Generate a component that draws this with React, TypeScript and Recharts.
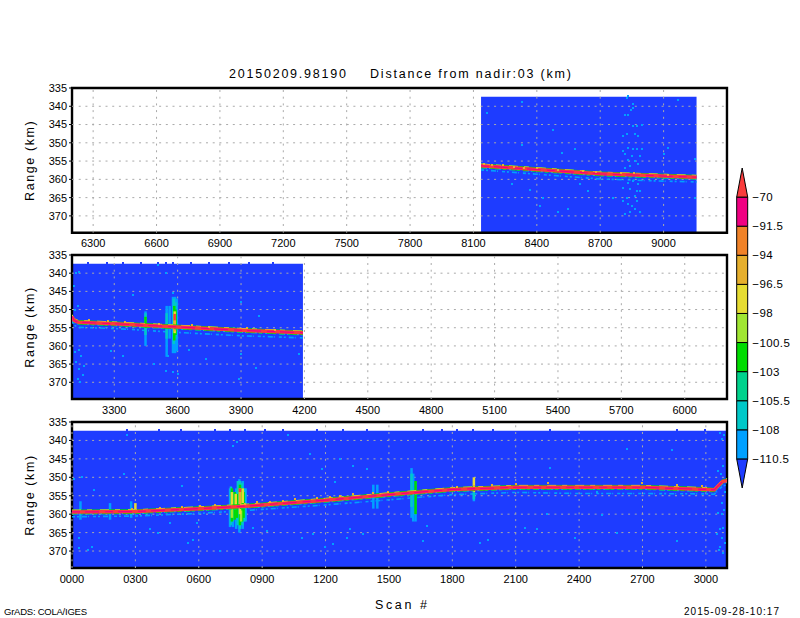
import * as React from 'react';
import {
  Area,
  Bar,
  BarChart,
  ComposedChart,
  Line,
  ReferenceArea,
  ReferenceLine,
  Scatter,
  XAxis,
  YAxis,
} from 'recharts';

const GRADS_BLUE = '#1e3cff';
const LIGHT_BLUE = '#00a0ff';
const CYAN = '#00c8c8';
const AQUA = '#00d28c';
const GREEN = '#00dc00';
const YELLOW_GREEN = '#a0e632';
const YELLOW = '#e6dc32';
const DARK_YELLOW = '#e6af2d';
const ORANGE = '#f08228';
const MAGENTA = '#f00082';
const RED = '#fa3c3c';
const GRID = '#aaaaaa';
const FONT = '"Liberation Sans", sans-serif';

const rangeTicks = [335, 340, 345, 350, 355, 360, 365, 370];
const rangeBottom = 374.6;

// top panel
const ticks1 = [6300, 6600, 6900, 7200, 7500, 7800, 8100, 8400, 8700, 9000];
const scans1 = [8136, 8400, 8700, 9000, 9156];
const surface1 = [356.3, 357.3, 358.5, 359.1, 359.4];
const upper1 = [355.8, 356.8, 358, 358.6, 358.9];
const lower1 = [356.8, 357.8, 359, 359.6, 359.9];
const fringe1 = [357.4, 358.6, 359.9, 360.5, 360.7];
const notches1 = [
  [8150, 355.7], [8190, 356], [8240, 356.2], [8290, 356.5], [8340, 356.8], [8400, 357], [8500, 357.4],
  [8620, 357.7], [8680, 358], [8800, 358.3], [8860, 358.2], [9020, 358.7],
];
const speckles1 = [
  [8833, 337.3], [8825, 337.7], [8854, 339.5], [8844, 340.9], [8857, 340.5], [8817, 342.5], [8833, 342.3],
  [8857, 345.5], [8872, 345.5], [8896, 345], [8809, 348.2], [8825, 347.7], [8865, 347.7], [8880, 348.2],
  [8833, 351.4], [8857, 351.8], [8872, 351.6], [8896, 351.8], [8809, 352.3], [8849, 353.6], [8888, 353.6],
  [8817, 353.2], [8833, 354.8], [8865, 355], [8880, 355.9], [8841, 356.4], [8817, 356.8], [8880, 361.4],
  [8833, 360.9], [8857, 360.5], [8809, 362.3], [8841, 362.7], [8872, 363.2], [8888, 363.2], [8825, 365],
  [8865, 364.5], [8809, 365.9], [8833, 366.8], [8849, 367.3], [8872, 365.9], [8817, 369.5], [8841, 369],
  [8888, 369], [8865, 368.2], [8331, 338.8], [8166, 341.8], [8478, 346.4], [8331, 350.7], [8521, 352.7],
  [8581, 351.8], [9070, 338.2], [9002, 353.2], [9022, 351.4], [8368, 363], [8281, 361.2], [8415, 367.3],
  [8502, 369], [8549, 368.2], [8431, 365], [9148, 354.5], [9148, 365], [8644, 363.2], [8604, 361.4], [8762, 365],
];

// middle panel
const ticks2 = [3300, 3600, 3900, 4200, 4500, 4800, 5100, 5400, 5700, 6000];
const scans2 = [3100, 3110, 3130, 3300, 3600, 3900, 4193];
const surface2 = [351.9, 353, 353.5, 353.9, 354.8, 355.7, 356.4];
const upper2 = [351.4, 352.5, 353, 353.4, 354.3, 355.2, 355.9];
const lower2 = [352.4, 353.5, 354, 354.4, 355.3, 356.2, 356.9];
const fringe2 = [353.2, 354.3, 354.9, 355.2, 356.3, 357.2, 357.8];
const notches2 = [
  [3180, 352.8], [3270, 353.1], [3350, 353.3], [3510, 353.9], [3670, 354.3], [3750, 354.8], [3930, 355.2], [4060, 355.6],
];
const nubs2 = [3178, 3264, 3342, 3428, 3506, 3545, 3576, 3662, 3748, 3842, 3936, 4053];
const speckles2 = [
  [3119, 340], [3135, 339.8], [3111, 343.6], [3127, 349], [3116, 350], [3132, 361], [3143, 362.7], [3119, 364.5],
  [3135, 366.4], [3150, 368], [3127, 369], [3138, 369.8], [3116, 361.8], [3158, 365.5], [3387, 346], [3545, 340],
  [3505, 337.7], [3576, 345.5], [3986, 351.8], [3900, 348], [3285, 361.4], [3340, 362.7], [3490, 365], [3553, 362.7],
  [3545, 366.8], [3576, 367.3], [3600, 367.7], [3892, 369], [3900, 362.3], [4176, 362.3], [3971, 366], [3734, 363.6],
  [3655, 361],
];
const clutterBlue2 = [[3448, 350.5, 360], [3548, 349, 363], [3562, 349, 358], [3578, 346.5, 362], [3588, 346.5, 362], [3596, 347, 361.5]];
const clutterCyan2 = [[3448, 351, 357], [3548, 351, 358], [3582, 347, 359.5], [3590, 348, 358]];
const clutterGreen2 = [[3448, 352, 355], [3584, 349, 358.5], [3590, 350, 357]];
const clutterYellow2 = [[3586, 350.5, 356.5]];
const clutterAmber2 = [[3586, 353, 356]];
const clutterRed2 = [[3586, 351.2, 353], [3586, 354.2, 355.2]];

// bottom panel
const ticks3 = [0, 300, 600, 900, 1200, 1500, 1800, 2100, 2400, 2700, 3000];
const scans3 = [0, 300, 600, 800, 900, 1200, 1500, 1800, 2100, 2400, 2700, 3000, 3040, 3060, 3080, 3100];
const surface3 = [359.4, 359.3, 358.5, 357.9, 357.5, 356.2, 354.7, 353.3, 352.7, 352.7, 352.7, 353.3, 353.4, 352.2, 351.1, 350.9];
const upper3 = [358.9, 358.8, 358, 357.4, 357, 355.7, 354.2, 352.8, 352.2, 352.2, 352.2, 352.8, 353, 351.7, 350.6, 350.4];
const lower3 = [359.9, 359.8, 359, 358.4, 358, 356.7, 355.2, 353.8, 353.2, 353.2, 353.2, 353.8, 353.9, 352.7, 351.6, 351.4];
const fringe3 = [360.7, 360.5, 359.8, 359.1, 358.7, 357.5, 356.1, 354.7, 354.1, 354.4, 354.4, 354.5, 354.6, 353.4, 352.3, 352.1];
const notches3 = [
  [282, 358.6], [416, 358.4], [519, 358], [606, 357.9], [677, 357.6], [819, 357.2], [874, 356.8], [937, 356.6],
  [1000, 356.4], [1055, 356], [1158, 355.6], [1221, 355.3], [1268, 355], [1331, 354.6], [1426, 354.2], [1497, 354],
  [1820, 352.7], [1902, 352.4], [1989, 352], [2100, 351.9], [2254, 351.6], [2696, 351.6], [2861, 352], [2980, 352.4],
];
const nubs3 = [259, 413, 516, 677, 748, 819, 913, 997, 1158, 1284, 1394, 1663, 1750, 1820, 1900, 1994, 2262, 2865, 2995];
const speckles3 = [
  [259, 338.5], [46, 349.8], [9, 350.5], [246, 349], [106, 353.4], [35, 366.4], [32, 369.3], [93, 369], [77, 369.8],
  [519, 352.3], [763, 341.4], [779, 340.5], [1024, 338.6], [1126, 343.6], [1268, 345], [1331, 346.8], [1394, 347.8],
  [1181, 347.8], [1245, 351.4], [590, 362.3], [858, 363.7], [921, 364.6], [1087, 366.4], [1142, 365.5], [1315, 364],
  [1378, 365.5], [1300, 366.4], [574, 366.9], [550, 367.8], [700, 370], [1197, 369], [1237, 368], [369, 364], [408, 365],
  [464, 362.3], [2262, 347.5], [2841, 342.7], [2628, 342.3], [2483, 354], [1970, 366.9], [1663, 367.3], [1679, 363.2],
  [2507, 360.3], [2246, 360], [2199, 364], [2581, 365], [2144, 363.7], [1931, 367.8], [2861, 367.3], [2380, 366.4],
  [3067, 338], [3074, 339.6], [3085, 338.6], [3059, 348.2], [3070, 349], [3079, 346.8], [3090, 354], [3074, 356.9],
  [3085, 359], [3059, 359.6], [3074, 360], [3067, 364], [3083, 363.7], [3051, 365.5], [3074, 366.4], [3090, 367.8],
  [3067, 369], [3064, 369.8], [3079, 370.5],
];
const clutterBlue3 = [
  [40, 356.5, 361.5], [180, 357, 361.5], [280, 356.5, 361], [748, 353, 363.5], [762, 354, 363.5], [777, 353, 364],
  [792, 350.5, 365], [808, 351, 364], [822, 353, 362], [1426, 352, 358.5], [1445, 352, 358.5], [1607, 347.5, 361],
  [1615, 349, 362], [1626, 351, 362], [1902, 354.5, 356.5],
];
const clutterCyan3 = [
  [752, 352.5, 363], [762, 354, 362], [785, 351, 363], [795, 351, 364], [805, 351.5, 363], [815, 353, 362],
  [1607, 349, 358], [1902, 354, 356],
];
const clutterGreen3 = [
  [757, 353, 362], [770, 354, 361.5], [780, 354.5, 361], [795, 352, 363], [805, 353, 362], [812, 354, 361], [1626, 351, 360],
];
const clutterLime3 = [[757, 358, 361], [800, 359, 362]];
const clutterYellow3 = [[757, 354, 358], [775, 354.5, 357.5], [795, 353, 360], [808, 353, 357], [1902, 350, 354], [300, 357, 359]];
const clutterAmber3 = [[795, 354, 358]];
const clutterRed3 = [[795, 353, 354]];

// colour bar, lowest band first
const scaleLabels = ['-110.5', '-108', '-105.5', '-103', '-100.5', '-98', '-96.5', '-94', '-91.5', '-70'];
const scaleColors = [GRADS_BLUE, LIGHT_BLUE, CYAN, AQUA, GREEN, YELLOW_GREEN, YELLOW, DARK_YELLOW, ORANGE, MAGENTA, RED];
const scaleTicks = [1, 2, 3, 4, 5, 6, 7, 8, 9, 10];
const scaleBands = scaleColors.map((_, i) => 'band' + i);
const scaleRow = [Object.fromEntries(scaleBands.map((b) => [b, 1]))];

const toRows = (xs: number[], ys: number[]) => xs.map((scan, i) => ({ scan, range: ys[i] }));
const toPoints = (pts: number[][]) => pts.map(([scan, range]) => ({ scan, range }));
const toSegment = ([scan, from, to]: number[]) => [
  { scan, range: from },
  { scan, range: to },
];
const pad4 = (v: number) => String(v).padStart(4, '0');

function Pixel(props: any) {
  return <rect x={props.cx - 1} y={props.cy - 1} width={2} height={2} fill={props.fill} shapeRendering="crispEdges" />;
}

function Triangle(props: any) {
  const { x, y, width, height, fill, pointUp } = props;
  const d = pointUp
    ? `M${x},${y + height}L${x + width / 2},${y}L${x + width},${y + height}Z`
    : `M${x},${y}L${x + width / 2},${y + height}L${x + width},${y}Z`;
  return <path d={d} fill={fill} stroke="#000" strokeWidth={1} />;
}

interface PanelProps {
  top: number;
  plotHeight: number;
  domain: number[];
  ticks: number[];
  shaded: number[];
  scans: number[];
  surface: number[];
  upper: number[];
  lower: number[];
  fringe: number[];
  notches: number[][];
  speckles: number[][];
  nubs?: number[];
  clutter?: { color: string; segments: number[][] }[];
  format?: (v: number) => string;
}

function Panel(p: PanelProps) {
  const marginTop = 10;
  const shade = p.shaded.map((scan) => ({ scan, band: [337.4, rangeBottom] }));
  const line = (ys: number[], color: string, width: number, dash?: string) => (
    <Line
      data={toRows(p.scans, ys)}
      dataKey="range"
      type="linear"
      stroke={color}
      strokeWidth={width}
      strokeDasharray={dash}
      dot={false}
      isAnimationActive={false}
    />
  );
  return (
    <div style={{ position: 'absolute', left: 0, top: p.top - marginTop }}>
      <ComposedChart
        width={800}
        height={marginTop + p.plotHeight + 28}
        margin={{ top: marginTop, right: 73, bottom: 0, left: 0 }}
      >
        <XAxis
          dataKey="scan"
          type="number"
          domain={p.domain}
          ticks={p.ticks}
          allowDataOverflow
          axisLine={false}
          tickLine={false}
          tickMargin={1}
          height={28}
          interval={0}
          tickFormatter={p.format}
          tick={{ fontSize: 11, fill: '#000', fontFamily: FONT }}
        />
        <YAxis
          dataKey="range"
          type="number"
          reversed
          domain={[335, rangeBottom]}
          ticks={rangeTicks}
          allowDataOverflow
          axisLine={false}
          tickSize={3}
          tickMargin={2}
          width={72}
          interval={0}
          tick={{ fontSize: 11, fill: '#000', fontFamily: FONT }}
          tickLine={{ stroke: '#000' }}
          label={{
            value: 'Range (km)',
            angle: -90,
            position: 'insideLeft',
            offset: 30,
            style: { fontSize: 12.5, fontFamily: FONT, letterSpacing: 1.6, textAnchor: 'middle', fill: '#000' },
          }}
        />
        <Area
          data={shade}
          dataKey="band"
          type="linear"
          stroke="none"
          fill={GRADS_BLUE}
          fillOpacity={1}
          dot={false}
          activeDot={false}
          isAnimationActive={false}
        />
        {p.nubs && (
          <Scatter
            data={p.nubs.map((scan) => ({ scan, range: 337.1 }))}
            fill={GRADS_BLUE}
            shape={Pixel}
            isAnimationActive={false}
          />
        )}
        {rangeTicks.slice(1).map((r) => (
          <ReferenceLine key={'r' + r} y={r} stroke={GRID} strokeDasharray="2 4.7" />
        ))}
        {p.ticks.map((t) => (
          <ReferenceLine key={'t' + t} x={t} stroke={GRID} strokeDasharray="2 4.7" />
        ))}
        {line(p.fringe, LIGHT_BLUE, 1.6, '3 2 2 3 5 1 1 4')}
        <Scatter data={toPoints(p.speckles)} fill={LIGHT_BLUE} shape={Pixel} isAnimationActive={false} />
        {p.clutter?.flatMap((c) =>
          c.segments.map((s, i) => (
            <Line
              key={c.color + i}
              data={toSegment(s)}
              dataKey="range"
              type="linear"
              stroke={c.color}
              strokeWidth={2.5}
              dot={false}
              isAnimationActive={false}
            />
          )),
        )}
        {line(p.lower, CYAN, 1.5, '6 2 3 3')}
        {line(p.lower, GREEN, 1, '5 4 9 3')}
        {line(p.upper, GREEN, 1)}
        {line(p.upper, YELLOW, 1, '9 6 5 8')}
        {line(p.surface, RED, 3.5)}
        {line(p.surface, MAGENTA, 1.2, '8 5 14 6')}
        <Scatter data={toPoints(p.notches)} fill={DARK_YELLOW} shape={Pixel} isAnimationActive={false} />
        <ReferenceArea
          x1={p.domain[0]}
          x2={p.domain[1]}
          y1={335}
          y2={rangeBottom}
          fill="none"
          fillOpacity={0}
          stroke="#000"
          strokeWidth={2.4}
        />
      </ComposedChart>
    </div>
  );
}

function ColorBar() {
  return (
    <div style={{ position: 'absolute', left: 0, top: 158 }}>
      <BarChart
        width={800}
        height={340}
        data={scaleRow}
        barCategoryGap={0}
        margin={{ top: 10, right: 52.7, bottom: 10, left: 736.7 }}
      >
        <XAxis hide dataKey={() => 'scale'} />
        <YAxis
          orientation="right"
          type="number"
          domain={[0, 11]}
          ticks={scaleTicks}
          interval={0}
          width={0}
          axisLine={false}
          tickSize={0}
          tick={false}
        />
        {scaleBands.map((b, i) => (
          <Bar
            key={b}
            dataKey={b}
            stackId="scale"
            fill={scaleColors[i]}
            stroke="#000"
            strokeWidth={1}
            isAnimationActive={false}
            shape={
              i === 0 ? (
                <Triangle pointUp={false} />
              ) : i === scaleBands.length - 1 ? (
                <Triangle pointUp />
              ) : undefined
            }
          />
        ))}
        {scaleTicks.map((t, i) => (
          <ReferenceLine
            key={t}
            y={t}
            stroke="none"
            label={(props: any) => {
              const y = props.viewBox.y;
              const x = props.viewBox.x + props.viewBox.width;
              return (
                <text x={x + 5} y={y + 4} fontSize={11.5} letterSpacing={0.4} fontFamily={FONT} fill="#000">
                  {scaleLabels[i].replace('-', '\u2212')}
                </text>
              );
            }}
          />
        ))}
      </BarChart>
    </div>
  );
}

export default function App() {
  return (
    <div style={{ position: 'absolute', left: 0, top: 0, width: 800, height: 618, background: '#fff', overflow: 'hidden' }}>
      <Panel
        top={88}
        plotHeight={144.7}
        domain={[6200, 9300]}
        ticks={ticks1}
        shaded={[8136, 9156]}
        scans={scans1}
        surface={surface1}
        upper={upper1}
        lower={lower1}
        fringe={fringe1}
        notches={notches1}
        speckles={speckles1}
      />
      <Panel
        top={255}
        plotHeight={144}
        domain={[3100, 6200]}
        ticks={ticks2}
        shaded={[3100, 4193]}
        scans={scans2}
        surface={surface2}
        upper={upper2}
        lower={lower2}
        fringe={fringe2}
        notches={notches2}
        speckles={speckles2}
        nubs={nubs2}
        clutter={[
          { color: LIGHT_BLUE, segments: clutterBlue2 },
          { color: CYAN, segments: clutterCyan2 },
          { color: GREEN, segments: clutterGreen2 },
          { color: YELLOW, segments: clutterYellow2 },
          { color: DARK_YELLOW, segments: clutterAmber2 },
          { color: RED, segments: clutterRed2 },
        ]}
      />
      <Panel
        top={421.7}
        plotHeight={146}
        domain={[0, 3100]}
        ticks={ticks3}
        shaded={[0, 3100]}
        scans={scans3}
        surface={surface3}
        upper={upper3}
        lower={lower3}
        fringe={fringe3}
        notches={notches3}
        speckles={speckles3}
        nubs={nubs3}
        format={pad4}
        clutter={[
          { color: LIGHT_BLUE, segments: clutterBlue3 },
          { color: CYAN, segments: clutterCyan3 },
          { color: GREEN, segments: clutterGreen3 },
          { color: YELLOW_GREEN, segments: clutterLime3 },
          { color: YELLOW, segments: clutterYellow3 },
          { color: DARK_YELLOW, segments: clutterAmber3 },
          { color: RED, segments: clutterRed3 },
        ]}
      />
      <ColorBar />
      <svg width={800} height={618} style={{ position: 'absolute', left: 0, top: 0, pointerEvents: 'none' }} fontFamily={FONT} fill="#000">
        <text x={229} y={78} fontSize={12.5} textLength={117}>20150209.98190</text>
        <text x={370} y={78} fontSize={12.5} textLength={201}>Distance from nadir:03 (km)</text>
        <text x={375} y={609} fontSize={12.5} textLength={52}>Scan #</text>
        <text x={4} y={615} fontSize={9.5} textLength={83}>GrADS: COLA/IGES</text>
        <text x={684} y={615} fontSize={10} textLength={95}>2015-09-28-10:17</text>
      </svg>
    </div>
  );
}
